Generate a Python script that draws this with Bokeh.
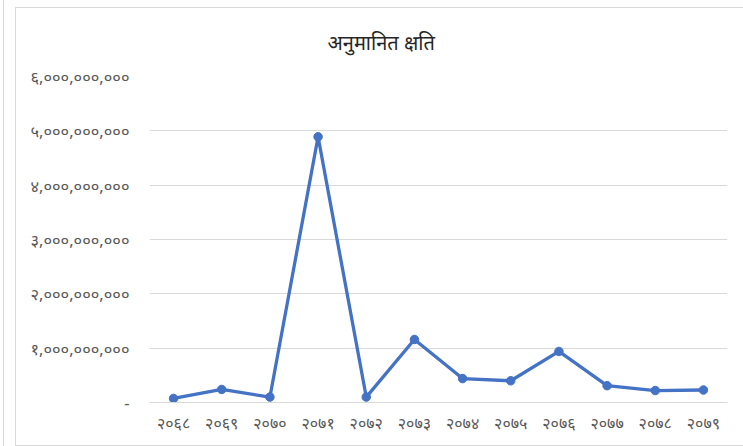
from bokeh.plotting import figure
from bokeh.models import FactorRange, Range1d, FixedTicker
from bokeh.embed import file_html
from bokeh.resources import INLINE

title_text = "अनुमानित क्षति"
years = ["२०६८", "२०६९", "२०७०", "२०७१", "२०७२", "२०७३",
         "२०७४", "२०७५", "२०७६", "२०७७", "२०७८", "२०७९"]
loss = [75_000_000, 240_000_000, 100_000_000, 4_890_000_000, 100_000_000, 1_160_000_000,
        440_000_000, 400_000_000, 940_000_000, 310_000_000, 220_000_000, 230_000_000]
y_ticks = [0, 1_000_000_000, 2_000_000_000, 3_000_000_000, 4_000_000_000,
           5_000_000_000, 6_000_000_000]
y_tick_labels = ["-", "१,०००,०००,०००", "२,०००,०००,०००", "३,०००,०००,०००",
                 "४,०००,०००,०००", "५,०००,०००,०००", "६,०००,०००,०००"]

G = "#d9d9d9"
bg = ", ".join([
    f"linear-gradient({G},{G}) 3px 0px / 1px 100% no-repeat",
    f"linear-gradient({G},{G}) 15px 7px / 1px 439px no-repeat",
    f"linear-gradient({G},{G}) 15px 7px / 100% 1px no-repeat",
    f"linear-gradient({G},{G}) 15px 445px / 100% 1px no-repeat",
    "white",
])

p = figure(width=743, height=446, output_backend="svg", toolbar_location=None,
           x_range=FactorRange(*years), y_range=Range1d(0, 6_000_000_000),
           min_border_left=149, min_border_right=16, min_border_top=76,
           min_border_bottom=44,
           styles={"background": bg})
p.outline_line_color = None
p.background_fill_color = "white"
p.border_fill_alpha = 0

p.title.text = title_text
p.title.align = "left"
p.title.offset = 178
p.title.standoff = 42
p.title.text_font = "Noto Sans"
p.title.text_font_size = "20px"
p.title.text_font_style = "normal"
p.title.text_color = "#262626"

p.line(years, loss, line_color="#4472C4", line_width=3.3)
p.scatter(years, loss, size=8.5, fill_color="#4472C4", line_color="#4472C4")

p.xgrid.grid_line_color = None
p.ygrid.grid_line_color = G
p.ygrid.grid_line_width = 1

p.yaxis.ticker = FixedTicker(ticks=y_ticks)
p.yaxis.major_label_overrides = {t: l for t, l in zip(y_ticks, y_tick_labels)}
p.yaxis.axis_line_color = None
p.yaxis.major_tick_line_color = None
p.yaxis.minor_tick_line_color = None
p.yaxis.major_label_standoff = 14
p.yaxis.major_label_text_font = "Noto Sans"
p.yaxis.major_label_text_font_size = "16.5px"
p.yaxis.major_label_text_color = "#595959"

p.xaxis.axis_line_color = G
p.xaxis.major_tick_line_color = None
p.xaxis.minor_tick_line_color = None
p.xaxis.major_label_standoff = 3
p.xaxis.major_label_text_font = "Noto Sans"
p.xaxis.major_label_text_font_size = "16px"
p.xaxis.major_label_text_color = "#595959"

open("out.html", "w").write(file_html(p, INLINE))
